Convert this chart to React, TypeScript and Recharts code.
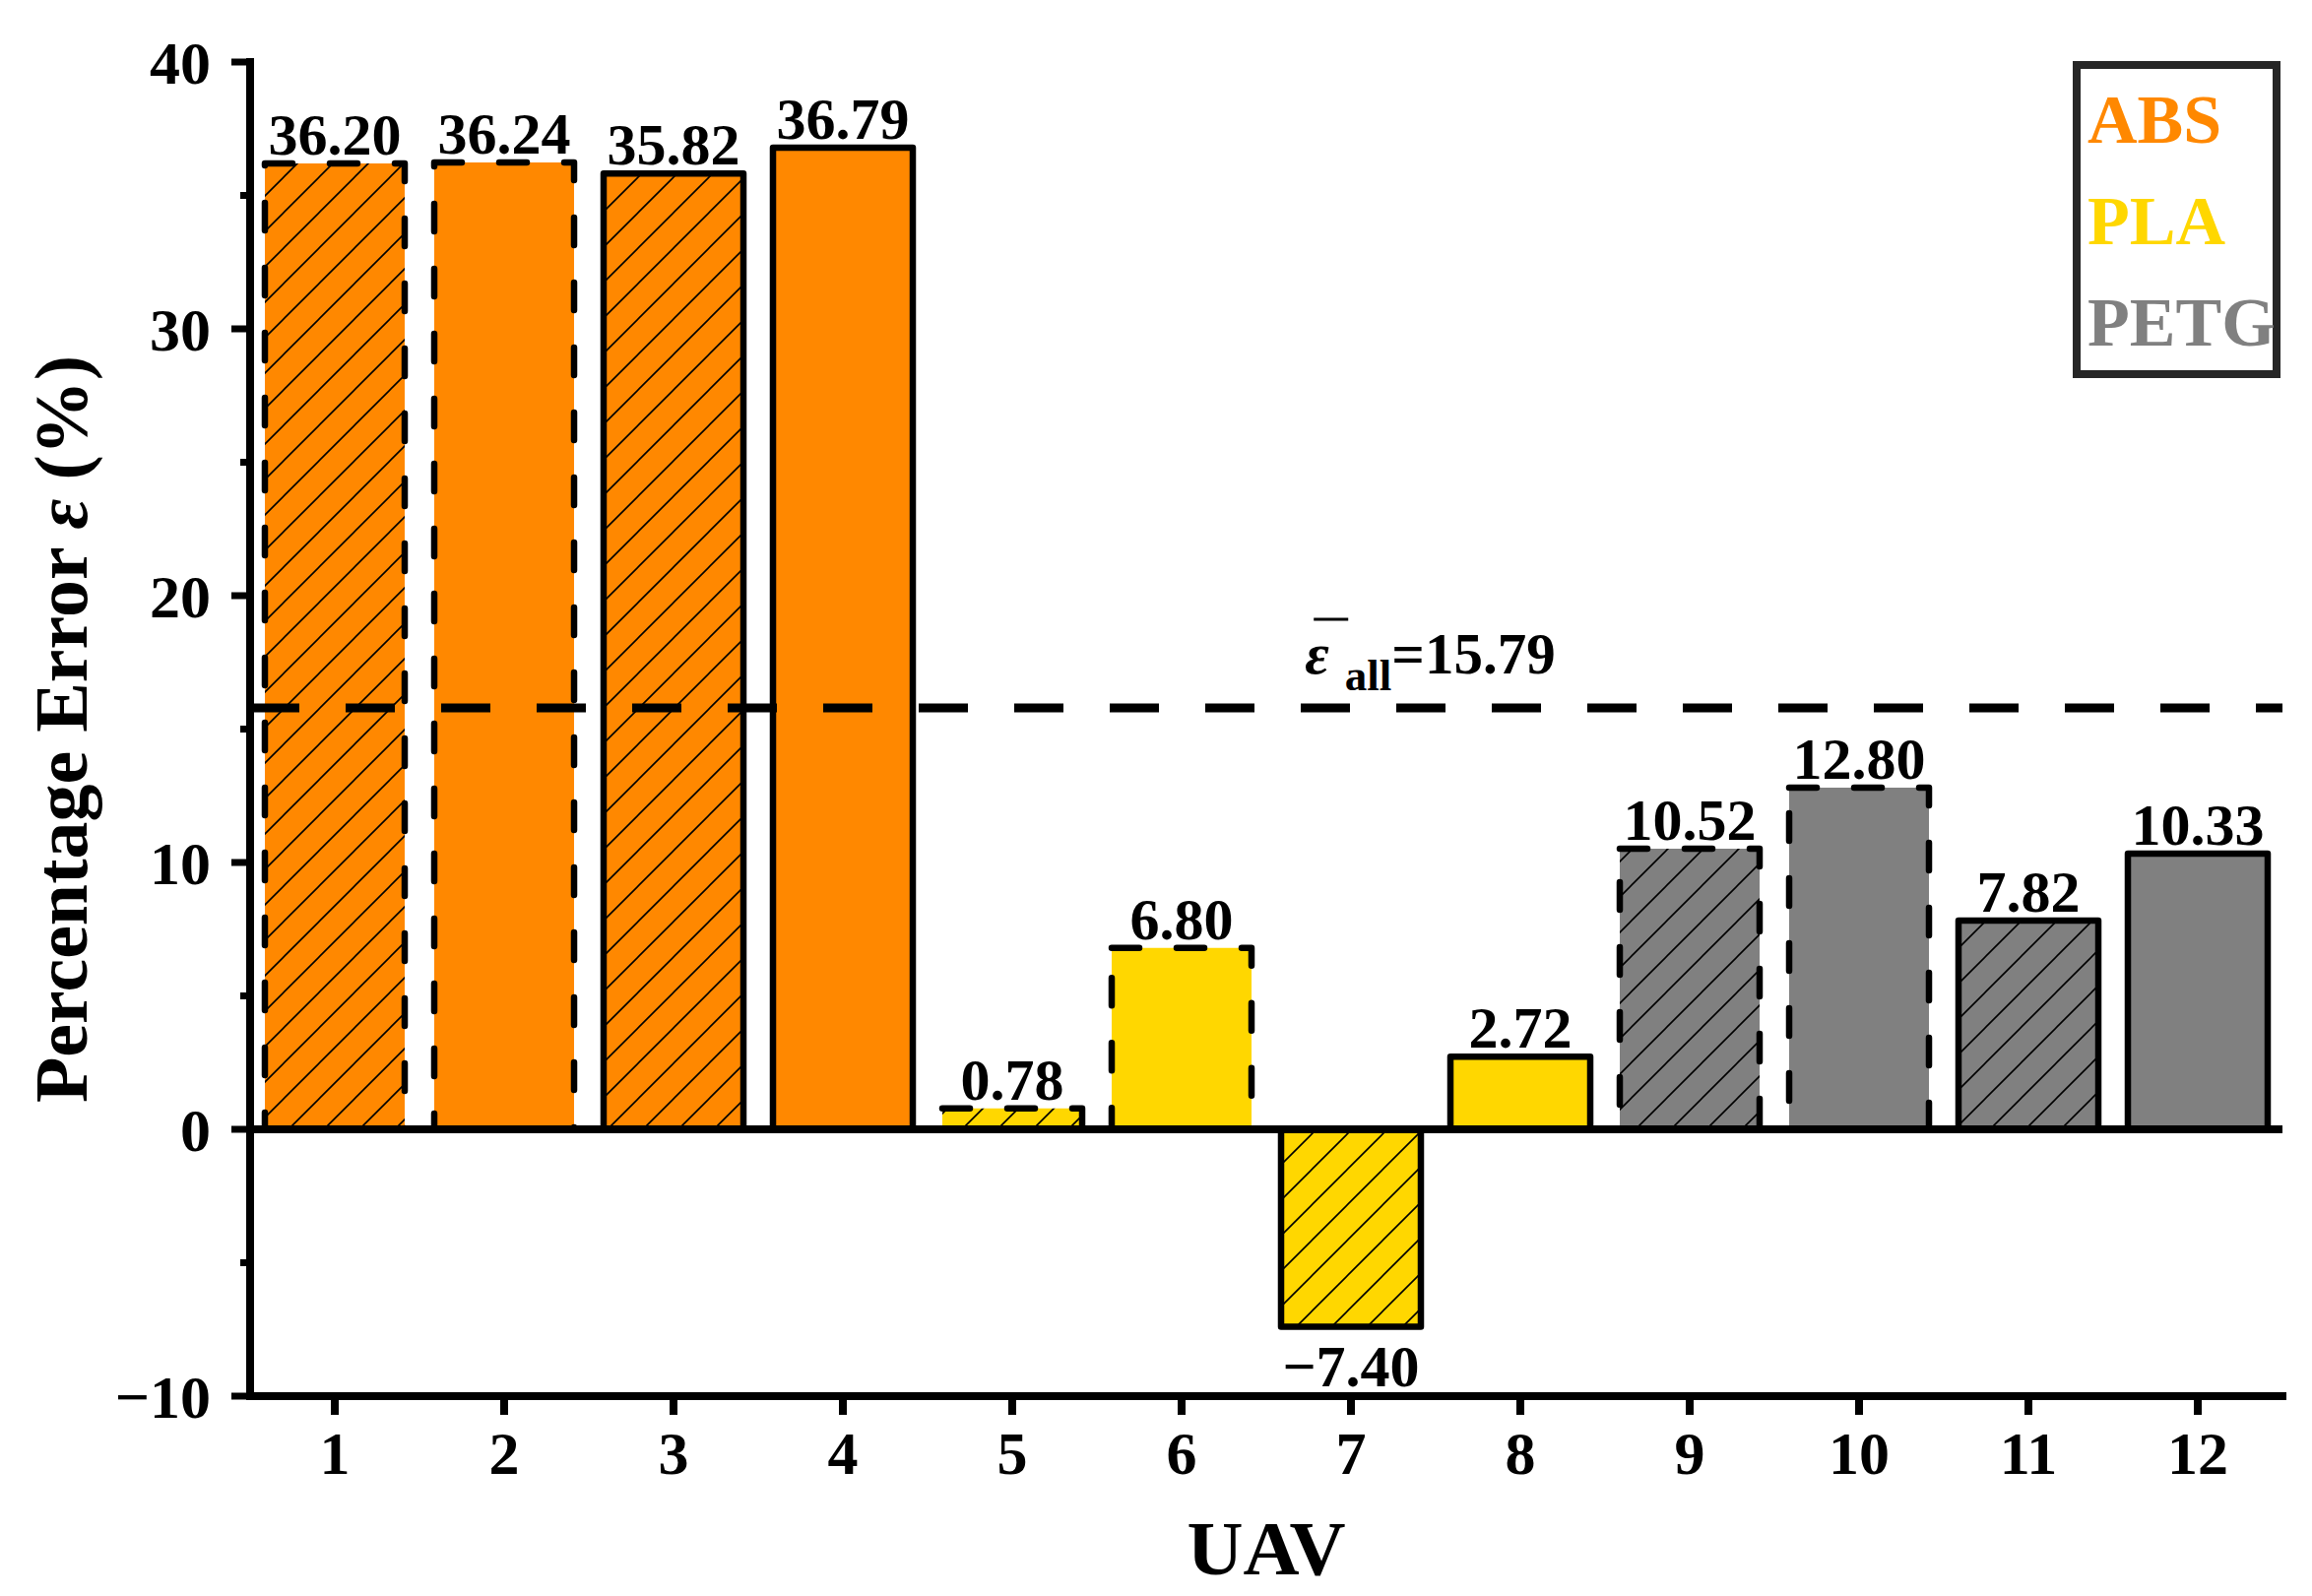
import {
  BarChart,
  Bar,
  Cell,
  XAxis,
  YAxis,
  ReferenceLine,
  LabelList,
} from 'recharts'

const uavLabels = ['1', '2', '3', '4', '5', '6', '7', '8', '9', '10', '11', '12']
const errorValues = [36.2, 36.24, 35.82, 36.79, 0.78, 6.8, -7.4, 2.72, 10.52, 12.8, 7.82, 10.33]
const materials = ['ABS', 'ABS', 'ABS', 'ABS', 'PLA', 'PLA', 'PLA', 'PLA', 'PETG', 'PETG', 'PETG', 'PETG']
const hatched = [true, false, true, false, true, false, true, false, true, false, true, false]
const dashedEdge = [true, true, false, false, true, true, false, false, true, true, false, false]
const yTicks = [-10, -5, 0, 5, 10, 15, 20, 25, 30, 35, 40]
const meanError = 15.79

const legendItems = ['ABS', 'PLA', 'PETG']
const materialColors: Record<string, string> = {
  ABS: '#FF8800',
  PLA: '#FFD700',
  PETG: '#808080',
}

const FONT = "'Liberation Serif', 'Times New Roman', serif"
const Y_TICK_SIZE = 15
const Y_TICK_MARGIN = 25

const data = uavLabels.map((uav, i) => ({ uav, error: errorValues[i] }))

const fmt = (v: number) => (v < 0 ? '\u2212' + Math.abs(v).toFixed(2) : v.toFixed(2))
const fmtTick = (v: number) => (v < 0 ? '\u2212' + Math.abs(v) : String(v))

function YTick(props: any) {
  const { x, y, payload } = props
  const v = payload.value
  const major = v % 10 === 0
  const axisX = x + Y_TICK_SIZE + Y_TICK_MARGIN
  const len = major ? 19 : 10
  return (
    <g>
      <line x1={axisX - len} x2={axisX} y1={y} y2={y} stroke="#000" strokeWidth={7} />
      {major && (
        <text x={x} y={y} dy="0.355em" textAnchor="end" fontFamily={FONT} fontWeight="bold" fontSize={62} fill="#000">
          {fmtTick(v)}
        </text>
      )}
    </g>
  )
}

function BarValue(props: any) {
  const vb = props.viewBox ?? props
  const x = vb.x ?? props.x
  const y = vb.y ?? props.y
  const w = vb.width ?? props.width
  const h = vb.height ?? props.height
  const value = Number(props.value)
  const top = Math.min(y, y + h)
  const bottom = Math.max(y, y + h)
  const cx = x + w / 2
  const ty = value < 0 ? bottom + 60 : top - 9
  return (
    <text x={cx} y={ty} textAnchor="middle" fontFamily={FONT} fontWeight="bold" fontSize={60} fill="#000">
      {fmt(value)}
    </text>
  )
}

function MeanLabel(props: any) {
  const vb = props.viewBox
  const x0 = vb.x + vb.width * 0.519
  const base = vb.y - 35
  return (
    <g>
      <line x1={x0 + 9} x2={x0 + 44} y1={base - 55} y2={base - 55} stroke="#000" strokeWidth={3} />
      <text x={x0} y={base} fontFamily={FONT} fontWeight="bold" fill="#000">
        <tspan fontStyle="italic" fontSize={60}>ε</tspan>
        <tspan dx={16} dy={17} fontSize={45}>all</tspan>
        <tspan dy={-17} fontSize={59}>=15.79</tspan>
      </text>
    </g>
  )
}

function YTitle(props: any) {
  const vb = props.viewBox
  const tx = vb.x + 88
  const ty = vb.y + vb.height / 2
  return (
    <text x={tx} y={ty} transform={`rotate(-90, ${tx}, ${ty})`} textAnchor="middle" fontFamily={FONT} fontWeight="bold" fontSize={76} fill="#000">
      Percentage Error <tspan fontStyle="italic">ε</tspan> (%)
    </text>
  )
}

function XTitle(props: any) {
  const vb = props.viewBox
  return (
    <text x={vb.x + vb.width / 2} y={vb.y + 181} textAnchor="middle" fontFamily={FONT} fontWeight="bold" fontSize={79} fill="#000">
      UAV
    </text>
  )
}

export default function App() {
  return (
    <div style={{ position: 'absolute', left: 0, top: 0, width: 2348, height: 1621, background: '#fff' }}>
      <BarChart width={2348} height={1621} data={data} margin={{ top: 63, right: 30, bottom: 0, left: 0 }}>
        <defs>
          {legendItems.map((m) => (
            <pattern key={m} id={`hatch-${m}`} patternUnits="userSpaceOnUse" width={36} height={36}>
              <rect width={36} height={36} fill={materialColors[m]} />
              <path d="M0,36 L36,0 M-9,9 L9,-9 M27,45 L45,27" stroke="#000" strokeWidth={1.6} />
            </pattern>
          ))}
        </defs>
        <XAxis
          dataKey="uav"
          height={203}
          axisLine={{ stroke: '#000', strokeWidth: 8, strokeLinecap: 'square' }}
          tickLine={{ stroke: '#000', strokeWidth: 8 }}
          tickSize={19}
          tickMargin={16}
          tick={{ fontFamily: FONT, fontWeight: 'bold', fontSize: 62, fill: '#000' }}
          label={XTitle}
        />
        <XAxis
          xAxisId="top"
          dataKey="uav"
          orientation="top"
          height={0}
          tick={false}
          tickLine={false}
          axisLine={{ stroke: '#000', strokeWidth: 8, strokeLinecap: 'square' }}
        />
        <YAxis
          domain={[-10, 40]}
          ticks={yTicks}
          width={254}
          interval={0}
          allowDataOverflow
          axisLine={{ stroke: '#000', strokeWidth: 8, strokeLinecap: 'square' }}
          tickLine={false}
          tickSize={Y_TICK_SIZE}
          tickMargin={Y_TICK_MARGIN}
          tick={YTick}
          label={YTitle}
        />
        <YAxis
          yAxisId="right"
          orientation="right"
          domain={[-10, 40]}
          width={0}
          tick={false}
          tickLine={false}
          axisLine={{ stroke: '#000', strokeWidth: 8, strokeLinecap: 'square' }}
        />
        <Bar dataKey="error" barSize={142} isAnimationActive={false}>
          {data.map((d, i) => (
            <Cell
              key={d.uav}
              fill={hatched[i] ? `url(#hatch-${materials[i]})` : materialColors[materials[i]]}
              stroke="#000"
              strokeWidth={6.5}
              strokeLinecap={dashedEdge[i] ? 'round' : 'butt'}
              strokeLinejoin="round"
              strokeDasharray={dashedEdge[i] ? '28 38' : undefined}
            />
          ))}
          <LabelList dataKey="error" content={BarValue} />
        </Bar>
        <ReferenceLine y={0} stroke="#000" strokeWidth={8} />
        <ReferenceLine y={meanError} stroke="#000" strokeWidth={9} strokeDasharray="50 47" label={MeanLabel} />
      </BarChart>
      <div
        style={{
          position: 'absolute',
          left: 2105,
          top: 62,
          width: 211,
          height: 322,
          boxSizing: 'border-box',
          border: '8px solid #262626',
          background: '#fff',
          paddingLeft: 7,
          fontFamily: FONT,
          fontWeight: 'bold',
          fontSize: 70,
        }}
      >
        {legendItems.map((m) => (
          <div key={m} style={{ height: 103, lineHeight: '103px', color: materialColors[m], whiteSpace: 'nowrap' }}>
            {m}
          </div>
        ))}
      </div>
    </div>
  )
}
